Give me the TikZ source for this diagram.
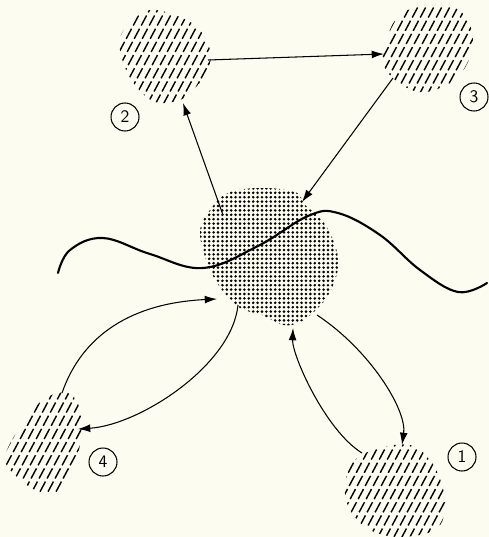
\documentclass[tikz,border=0pt]{standalone}
\usepackage{tikz}
\usetikzlibrary{calc,arrows.meta}

\definecolor{paper}{RGB}{253,252,240}

\begin{document}
\begin{tikzpicture}[x=0.02cm,y=-0.02cm,
  hatch/.style={line width=0.8pt, dash pattern=on 6.5pt off 2pt},
  conn/.style={line width=0.6pt, -{Latex[length=7pt,width=4.5pt]}},
  wave/.style={line width=1.2pt, line cap=round},
  numlabel/.style={draw, circle, line width=0.6pt, minimum size=0.56cm, inner sep=0pt, font=\fontsize{10}{10}\sffamily}]

\fill[paper] (0,0) rectangle (489,537);
\useasboundingbox (0,0) rectangle (489,537);

% central dotted region
\begin{scope}
\clip plot[smooth cycle, tension=.6] coordinates {(200,232) (210,210) (228,193) (260,188) (295,192) (305,205) (322,220) (335,245) (338,268) (330,292) (318,308) (300,322) (283,325) (262,315) (240,308) (222,290) (208,265)};
\foreach \x in {196,200.4,...,342}
  \foreach \y in {184,188.4,...,330}
    \fill (\x,\y) circle[radius=0.82pt];
\end{scope}

% hatched region 2
\begin{scope}
\clip plot[smooth cycle, tension=.6] coordinates {(150,10) (175,15) (198,28) (210,50) (208,70) (195,88) (180,100) (155,102) (135,85) (123,62) (120,38) (133,20)};
\foreach \i in {-96,-88,...,96}
  \draw[hatch] ($(165,56)+(\i,0)+(-40,75)$) -- ++(80,-150);
\end{scope}

% hatched region 3
\begin{scope}
\clip plot[smooth cycle, tension=.6] coordinates {(400,15) (425,5) (455,8) (470,25) (472,50) (460,75) (440,88) (418,92) (395,80) (383,62) (388,35)};
\foreach \i in {-96,-88,...,96}
  \draw[hatch] ($(428,48)+(\i,0)+(-40,75)$) -- ++(80,-150);
\end{scope}

% hatched region 4
\begin{scope}
\clip plot[smooth cycle, tension=.6] coordinates {(45,398) (68,393) (80,410) (80,445) (70,470) (55,493) (35,490) (15,475) (5,460) (12,440) (30,415)};
\foreach \i in {-96,-88,...,96}
  \draw[hatch] ($(42,443)+(\i,0)+(-40,75)$) -- ++(80,-150);
\end{scope}

% hatched region 1
\begin{scope}
\clip plot[smooth cycle, tension=.6] coordinates {(355,460) (380,448) (410,445) (430,460) (442,485) (445,510) (435,530) (400,537) (370,530) (350,510) (345,485)};
\foreach \i in {-96,-88,...,96}
  \draw[hatch] ($(395,490)+(\i,0)+(-40,75)$) -- ++(80,-150);
\end{scope}

% wavy line
\draw[wave] plot[smooth, tension=.65] coordinates {(58,273) (70,250) (103,238) (150,254) (203,268) (258,246) (308,216) (338,213) (380,235) (420,270) (458,292) (487,283)};

% circled numbers
\node[numlabel] (lab1) at (462,457) {1};
\node[numlabel] (lab2) at (125,117) {2};
\node[numlabel] (lab3) at (474,97) {3};
\node[numlabel] (lab4) at (103,462) {4};

% connector ends
\coordinate (b2out) at (208,60);
\coordinate (b3in) at (384,54);
\coordinate (b3out) at (393,78);
\coordinate (cin3) at (302,202);
\coordinate (cout2) at (223,215);
\coordinate (b2in) at (183,103);
\coordinate (b4out) at (62,393);
\coordinate (cin4) at (217,299);
\coordinate (cout4) at (238,305);
\coordinate (b4in) at (78,429);
\coordinate (b1out) at (362,453);
\coordinate (cin1) at (293,328);
\coordinate (cout1) at (317,315);
\coordinate (b1in) at (402,445);

\draw[conn] (b2out) -- (b3in);
\draw[conn] (b3out) -- (cin3);
\draw[conn] (cout2) -- (b2in);
\draw[conn] (b4out) .. controls (82,335) and (132,303) .. (cin4);
\draw[conn] (cout4) .. controls (232,365) and (140,425) .. (b4in);
\draw[conn] (b1out) .. controls (325,430) and (292,355) .. (cin1);
\draw[conn] (cout1) .. controls (370,350) and (407,410) .. (b1in);

\end{tikzpicture}
\end{document}
